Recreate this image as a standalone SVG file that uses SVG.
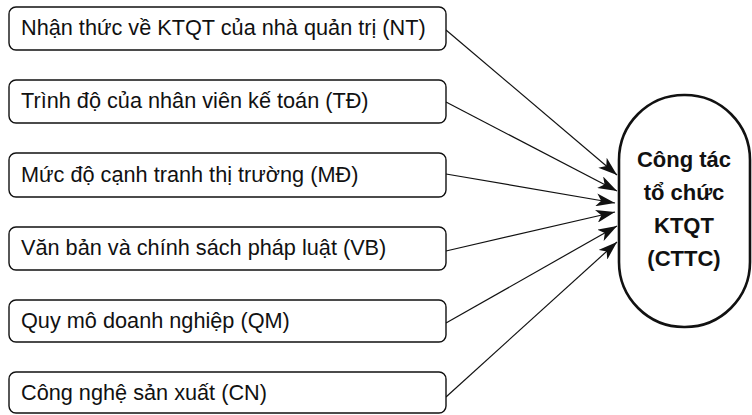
<svg xmlns="http://www.w3.org/2000/svg" width="752" height="415" viewBox="0 0 752 415">
<style>
.box{fill:#fff;stroke:#111;stroke-width:1.4}
.bt{font-family:"Liberation Sans",Arial,sans-serif;font-size:21.7px;fill:#111}
.oval{fill:#fff;stroke:#111;stroke-width:2.6}
.ot{font-family:"Liberation Sans",Arial,sans-serif;font-size:22px;font-weight:bold;fill:#111;text-anchor:middle}
.conn{stroke:#111;stroke-width:1.2;fill:none;marker-end:url(#ah)}
</style>
<defs>
<marker id="ah" markerUnits="userSpaceOnUse" markerWidth="20" markerHeight="13" refX="19" refY="6.5" orient="auto" viewBox="0 0 20 13">
<path d="M0,0 L19,6.5 L0,13 L5,6.5 Z" fill="#111"/>
</marker>
</defs>
<rect width="752" height="415" fill="#fff"/>
<g id="connectors">
<line class="conn" x1="446" y1="30" x2="617" y2="175"/>
<line class="conn" x1="446" y1="102" x2="617" y2="191"/>
<line class="conn" x1="446" y1="174" x2="615" y2="203"/>
<line class="conn" x1="446" y1="251" x2="615" y2="212"/>
<line class="conn" x1="446" y1="323" x2="617" y2="226"/>
<line class="conn" x1="446" y1="397" x2="617" y2="242"/>
</g>
<g id="nt"><rect class="box" x="9" y="7" width="437" height="43" rx="7"/><text class="bt" x="21" y="35">Nhận thức về KTQT của nhà quản trị (NT)</text></g>
<g id="td"><rect class="box" x="9" y="80" width="437" height="43" rx="7"/><text class="bt" x="21" y="108">Trình độ của nhân viên kế toán (TĐ)</text></g>
<g id="md"><rect class="box" x="9" y="153" width="437" height="44" rx="7"/><text class="bt" x="21" y="182">Mức độ cạnh tranh thị trường (MĐ)</text></g>
<g id="vb"><rect class="box" x="9" y="227" width="437" height="43" rx="7"/><text class="bt" x="21" y="255">Văn bản và chính sách pháp luật (VB)</text></g>
<g id="qm"><rect class="box" x="9" y="300" width="437" height="42" rx="7"/><text class="bt" x="21" y="328">Quy mô doanh nghiệp (QM)</text></g>
<g id="cn"><rect class="box" x="9" y="372" width="437" height="41" rx="7"/><text class="bt" x="21" y="400">Công nghệ sản xuất (CN)</text></g>
<g id="cttc"><rect class="oval" x="619" y="95" width="131" height="232" rx="65"/>
<text class="ot" x="684" y="167">Công tác</text>
<text class="ot" x="684" y="200">tổ chức</text>
<text class="ot" x="684" y="233">KTQT</text>
<text class="ot" x="684" y="266">(CTTC)</text>
</g>
</svg>
